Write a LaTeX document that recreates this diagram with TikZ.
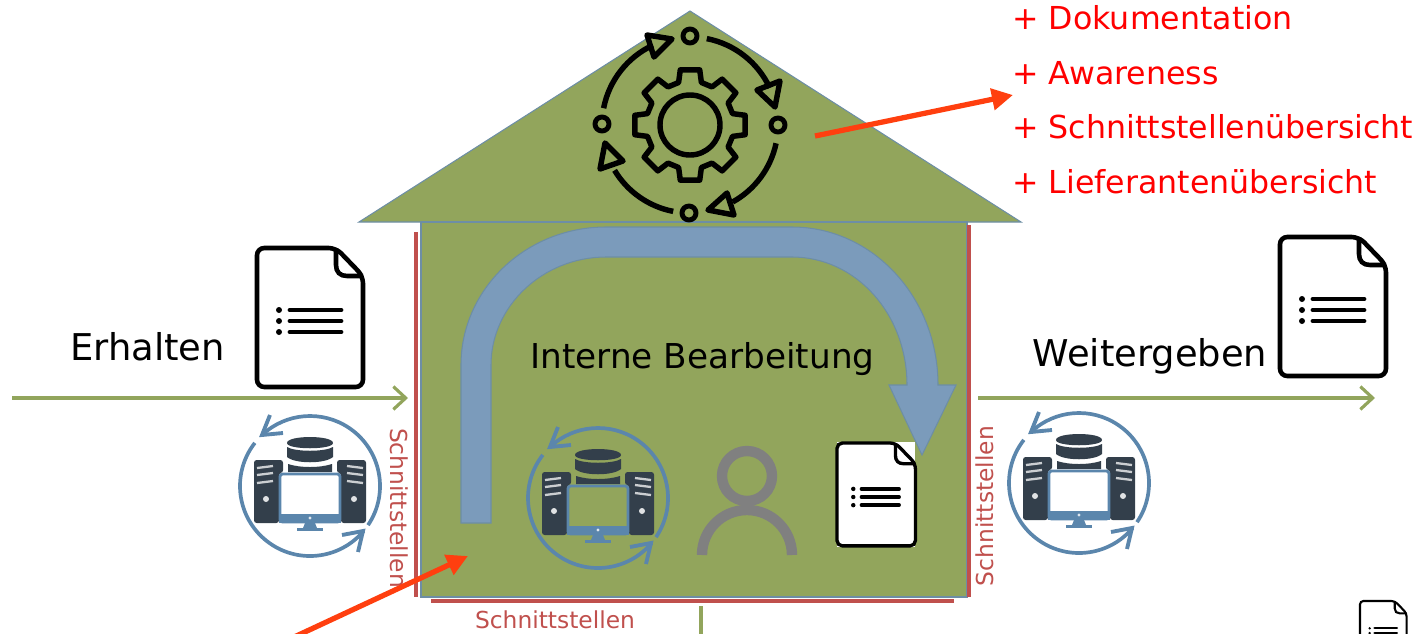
\documentclass[tikz,border=0pt]{standalone}
\usepackage{fontspec}
\setmainfont{DejaVu Sans}
\usetikzlibrary{arrows.meta}
\definecolor{housegreen}{HTML}{92A55C}
\definecolor{houseline}{HTML}{6D8EA5}
\definecolor{flowblue}{HTML}{7B9BBB}
\definecolor{ifacered}{HTML}{C0504D}
\definecolor{srvdark}{HTML}{333F4B}
\definecolor{srvblue}{HTML}{5B86AC}
\definecolor{markred}{HTML}{FF3F0F}
\tikzset{
    housepart/.style={fill=housegreen,draw=houseline,line width=0.6pt},
    flowline/.style={draw=housegreen,line width=1.8pt,-{Straight Barb[length=7pt,width=13pt,line width=1.8pt]}},
    markline/.style={draw=markred,line width=3pt,-{Triangle[length=12pt,width=12pt]}},
    ifaceline/.style={draw=ifacered,line width=2.2pt},
    ifacetext/.style={text=ifacered,font=\fontsize{13.3}{16}\selectfont,inner sep=0pt},
    plustext/.style={text=red,anchor=west,font=\fontsize{18}{20}\selectfont,inner sep=0pt},
    bigtext/.style={text=black,font=\fontsize{21}{24}\selectfont,inner sep=0pt},
    gearline/.style={draw=black,line width=3.1pt,line join=round},
    pics/docsheet/.style={code={
        \draw[fill=white,draw=black,line width=#1,rounded corners=1.6*#1]
            (0,0) -- (79,0) -- (106,28) -- (106,139) -- (0,139) -- cycle;
        \draw[black,line width=#1] (79,0) -- (79,17) .. controls (79,24) and (83,28) .. (90,28) -- (106,28);
        \foreach \y in {62,73,84}{
            \fill[black] (22,\y) circle (3);
            \draw[black,line width=1.05*#1,line cap=round] (33,\y) -- (84,\y);
        }
    }},
    pics/srvgroup/.style={code={
        % ring with its two arrows
        \draw[srvblue,line width=2.1pt] (34:70) arc[start angle=34,end angle=-133,radius=70];
        \draw[srvblue,line width=2.1pt] (-142:70) arc[start angle=-142,end angle=-320,radius=70];
        \draw[srvblue,line width=2.2pt] (-40,-71) -- (-48,-51) -- (-27,-53);
        \draw[srvblue,line width=2.2pt] (32,49) -- (53,45) -- (48,66);
        % database
        \fill[srvdark] (-23,-43) .. controls (-23,-51) and (23,-51) .. (23,-43) .. controls (23,-36) and (-23,-36) .. (-23,-43) -- cycle;
        \fill[srvdark] (-23,-39) .. controls (-15,-34) and (15,-34) .. (23,-39) -- (23,-29) .. controls (15,-22) and (-15,-22) .. (-23,-29) -- cycle;
        \fill[srvdark] (-22,-22) .. controls (-10,-18) and (10,-18) .. (22,-22) -- (22,-14) -- (-22,-14) -- cycle;
        % towers
        \foreach \s in {1,-1}{
            \begin{scope}[xscale=\s]
                \fill[srvdark,rounded corners=1.5pt] (-56,-26) -- (-27,-26) -- (-27,-13) -- (-31,-13) -- (-31,37) -- (-56,37) -- cycle;
                \foreach \y in {-19,-12,-4}{
                    \draw[white,opacity=0.75,line width=1.3pt] (-53,\y+1) -- (-37,\y-1);
                }
                \fill[white,opacity=0.85] (-44,13) circle (3);
            \end{scope}
        }
        % monitor
        \draw[srvblue,line width=1.6pt,rounded corners=1.5pt] (-30,-12) rectangle (30,36);
        \fill[srvblue] (-31,28) rectangle (31,37);
        \fill[white,opacity=0.8] (0,32) circle (1.6);
        \fill[srvblue] (-5,37) -- (5,37) -- (7,42) -- (-7,42) -- cycle;
        \fill[srvblue] (-13,42) rectangle (13,45);
    }}
}
\begin{document}
\begin{tikzpicture}[x=0.02cm,y=-0.02cm]
    \useasboundingbox (0,0) rectangle (1418,633);
    \clip (0,0) rectangle (1418,633);

    % house
    \draw[housepart] (359,222)--(690,11)--(1021,222)--cycle;
    \draw[housepart] (421,222) rectangle (967,597);

    % flow through the house
    \draw[fill=flowblue,draw=houseline,line width=0.6pt] (461,523)--(461,365)
        .. controls (461,289) and (526,227) .. (606,227) -- (792,227)
        .. controls (873,227) and (938,298) .. (938,385) -- (956,385) -- (922,455) -- (889,385) -- (907,385)
        .. controls (907,314) and (856,257) .. (792,257) -- (606,257)
        .. controls (543,257) and (491,306) .. (491,365) -- (491,523) -- cycle;

    % gear in the roof
    \begin{scope}[shift={(690,125)}]
        \draw[gearline] (0,0) circle (30);
        \draw[gearline] (-15:44) foreach \a in {0,45,...,315}{
            -- ({\a-15}:44) -- ({\a-10}:56) -- ({\a+10}:56) -- ({\a+15}:44)} -- cycle;
        \draw[gearline] (-79:88) arc[start angle=-79,end angle=-25,radius=88];
        \draw[gearline] (12:88) arc[start angle=12,end angle=61,radius=88];
        \draw[gearline] (101:88) arc[start angle=101,end angle=149,radius=88];
        \draw[gearline] (-169:88) arc[start angle=-169,end angle=-115,radius=88];
    \end{scope}
    \draw[gearline] (780,81)--(757,90)--(775,107)--cycle;
    \draw[gearline] (727,193)--(708,210)--(734,215)--cycle;
    \draw[gearline] (605,143)--(600,169)--(623,161)--cycle;
    \draw[gearline] (647,35)--(672,39)--(654,57)--cycle;
    \foreach \p in {(690,36),(778,125),(689,213),(602,124)}{
        \draw[gearline,line width=2.8pt] \p circle (7);
    }

    % interfaces
    \draw[ifaceline] (416,232)--(416,597);
    \draw[ifaceline] (969,225)--(969,597);
    \draw[ifaceline] (431,601)--(954,601);
    \node[ifacetext,rotate=-90] (ifaceleft) at (399,508) {Schnittstellen};
    \node[ifacetext,rotate=90] (ifaceright) at (985,506) {Schnittstellen};
    \node[ifacetext] (ifacebottom) at (555,620) {Schnittstellen};

    % flow arrows
    \coordinate (inA) at (12,398);
    \coordinate (inB) at (408,398);
    \coordinate (outA) at (978,398);
    \coordinate (outB) at (1375,398);
    \draw[flowline] (inA)--(inB);
    \draw[flowline] (outA)--(outB);
    \coordinate (stemA) at (701,606);
    \coordinate (stemB) at (701,640);
    \draw[draw=housegreen,line width=1.8pt] (stemA)--(stemB);

    % documents
    \pic at (257,248) {docsheet=2.6pt};
    \pic at (1280,237) {docsheet=2.6pt};
    \fill[white] (837,442) rectangle (915,547);
    \pic[scale=0.74] at (837,443) {docsheet=1.9pt};
    \pic[scale=0.44] at (1360,601) {docsheet=1.2pt};

    % servers
    \pic at (310,486) {srvgroup};
    \pic at (598,498) {srvgroup};
    \pic at (1079,483) {srvgroup};

    % person
    \draw[gray,line width=5.9pt] (747,476) circle (25);
    \draw[gray,line width=5.9pt] (702,555) arc[start angle=180,end angle=360,radius=45];

    % texts
    \node[bigtext] (erhalten) at (147.5,347) {Erhalten};
    \node[bigtext] (weiter) at (1150,356) {Weitergeben};
    \node[bigtext,font=\fontsize{19.5}{24}\selectfont] (intern) at (702.5,359) {Interne Bearbeitung};
    \node[plustext] (plusA) at (1012,18) {+ Dokumentation};
    \node[plustext] (plusB) at (1012,73) {+ Awareness};
    \node[plustext] (plusC) at (1012,127) {+ Schnittstellenübersicht};
    \node[plustext] (plusD) at (1012,182) {+ Lieferantenübersicht};

    % red markers
    \coordinate (markA) at (815,136);
    \coordinate (markB) at (1013,95);
    \coordinate (markC) at (262,652);
    \coordinate (markD) at (468,556);
    \draw[markline] (markA)--(markB);
    \draw[markline] (markC)--(markD);
\end{tikzpicture}
\end{document}
